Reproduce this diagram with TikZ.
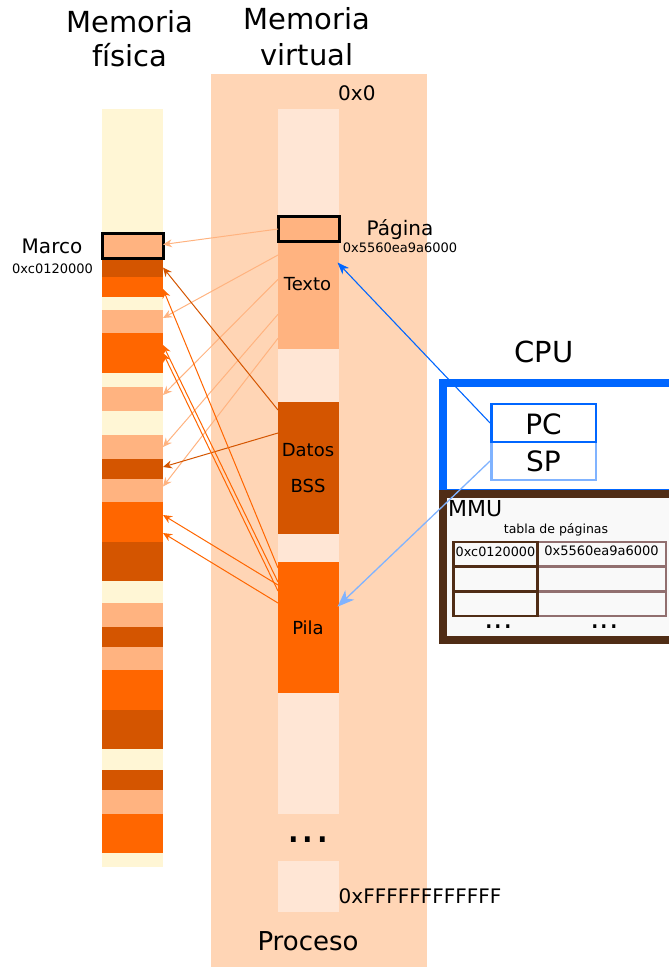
\documentclass[tikz,border=0pt]{standalone}
\usepackage{fontspec}
\setmainfont{DejaVu Sans}
\usetikzlibrary{arrows.meta}
\definecolor{cream}{HTML}{FFF6D5}
\definecolor{lor}{HTML}{FFB380}
\definecolor{ora}{HTML}{FF6600}
\definecolor{dor}{HTML}{D45500}
\definecolor{vlp}{HTML}{FFE6D5}
\definecolor{proc}{HTML}{FFD5B5}
\definecolor{cpublue}{HTML}{0066FF}
\definecolor{ltblue}{HTML}{80B3FF}
\definecolor{mmubrown}{HTML}{502D16}
\definecolor{gbrown}{HTML}{916F6F}
\definecolor{mmufill}{HTML}{F9F9F9}
\newcommand\myfs[1]{\fontsize{#1pt}{#1pt}\selectfont}
\tikzset{
  pm/.style={rectangle, inner sep=0pt, outer sep=0pt, minimum width=61pt, anchor=north},
  lbl/.style={inner sep=0pt, anchor=base},
  arrL/.style={draw=lor, line width=1pt, -{Stealth[length=9pt,width=8pt,inset=3pt]}},
  arrD/.style={draw=dor, line width=1pt, -{Stealth[length=9pt,width=8pt,inset=3pt]}},
  arrO/.style={draw=ora, line width=1pt, -{Stealth[length=9pt,width=8pt,inset=3pt]}},
  arrB/.style={draw=cpublue, line width=1.1pt, -{Stealth[length=12pt,width=9pt,inset=3.5pt]}},
  arrLB/.style={draw=ltblue, line width=1.3pt, -{Stealth[length=17pt,width=13pt,inset=5pt]}},
  cell/.style={rectangle, inner sep=0pt, line width=2.5pt},
}
\begin{document}
\begin{tikzpicture}[x=1pt,y=-1pt]
\useasboundingbox (0,0) rectangle (669,967);
\clip (0,0) rectangle (669,967);

% titles
\node[lbl, font=\myfs{29}] (t1a) at (130,32) {Memoria};
\node[lbl, font=\myfs{29}] (t1b) at (130,66.5) {física};
\node[lbl, font=\myfs{29}] (t2a) at (307,29.5) {Memoria};
\node[lbl, font=\myfs{29}] (t2b) at (307,65) {virtual};

% process background
\node[rectangle, inner sep=0pt, fill=proc, minimum width=216pt, minimum height=894pt, anchor=north] (proceso) at (319,73.5) {};

% physical memory frames
\foreach \ya/\yb/\col [count=\i] in {109/233/cream, 233/258/lor, 258/277/dor, 277/297/ora, 297/310/cream, 310/333/lor, 333/373/ora, 373/387/cream, 387/411/lor, 411/435/cream, 435/459/lor, 459/479/dor, 479/502/lor, 502/542/ora, 542/581/dor, 581/603/cream, 603/627/lor, 627/647/dor, 647/670/lor, 670/710/ora, 710/749/dor, 749/770/cream, 770/790/dor, 790/814/lor, 814/853/ora, 853/867/cream}{
  \pgfmathsetmacro\hh{\yb-\ya}
  \node[pm, fill=\col, minimum height=\hh pt] (p\i) at (132.5,\ya) {};
}
\draw[line width=3pt] (p2.north west) rectangle (p2.south east);

% virtual memory segments
\node[pm, fill=vlp, minimum height=107pt] (v1) at (308.5,109) {};
\node[pm, fill=lor, minimum height=25.5pt] (pag) at (308.5,216) {};
\node[pm, fill=lor, minimum height=107.5pt] (texto) at (308.5,241.5) {};
\node[pm, fill=vlp, minimum height=53pt] (v2) at (308.5,349) {};
\node[pm, fill=dor, minimum height=132pt] (datos) at (308.5,402) {};
\node[pm, fill=vlp, minimum height=28pt] (v3) at (308.5,534) {};
\node[pm, fill=ora, minimum height=131pt] (pila) at (308.5,562) {};
\node[pm, fill=vlp, minimum height=121pt] (v4) at (308.5,693) {};
\node[pm, fill=vlp, minimum height=51pt] (v5) at (308.5,861) {};
\draw[line width=3pt] (pag.north west) rectangle (pag.south east);

\node[lbl, font=\myfs{18}] (ltexto) at (307.5,290) {Texto};
\node[lbl, font=\myfs{18}] (ldatos) at (308,456) {Datos};
\node[lbl, font=\myfs{18}] (lbss) at (308,492) {BSS};
\node[lbl, font=\myfs{18}] (lpila) at (308,634) {Pila};
\node[lbl, font=\myfs{46}] (vdots) at (308,842) {...};

% labels
\node[lbl, font=\myfs{20}] (marco) at (52,253) {Marco};
\node[lbl, font=\myfs{13}] (marcoaddr) at (52.5,273) {0xc0120000};
\node[lbl, font=\myfs{20}] (pagina) at (400,235) {Página};
\node[lbl, font=\myfs{13}] (paginaaddr) at (400,252) {0x5560ea9a6000};
\node[lbl, anchor=base west, font=\myfs{20}] (a0) at (338,100) {0x0};
\node[lbl, anchor=base west, font=\myfs{20}] (amax) at (338.5,903) {0xFFFFFFFFFFFF};
\node[lbl, font=\myfs{26}] (lproceso) at (308,950) {Proceso};

% CPU
\node[lbl, font=\myfs{29}] (lcpu) at (544,362) {CPU};
\node[rectangle, inner sep=0pt, draw=cpublue, fill=white, line width=7.7pt, minimum width=257pt, minimum height=110pt] (cpu) at (571.5,438) {};
\node[rectangle, inner sep=0pt, draw=ltblue, fill=white, line width=2.8pt, minimum width=104.5pt, minimum height=38pt] (sp) at (543.75,461) {};
\node[rectangle, inner sep=0pt, draw=cpublue, fill=white, line width=2.8pt, minimum width=104.5pt, minimum height=38pt] (pc) at (543.75,423) {};
\node[lbl, font=\myfs{28}] (lpc) at (543.5,434) {PC};
\node[lbl, font=\myfs{28}] (lsp) at (543.5,471.7) {SP};

% MMU
\node[rectangle, inner sep=0pt, draw=mmubrown, fill=mmufill, line width=8pt, minimum width=257pt, minimum height=146.5pt] (mmu) at (571.5,566.75) {};
\node[lbl, anchor=base west, font=\myfs{22}] (lmmu) at (448,516.7) {MMU};
\node[lbl, font=\myfs{12.5}] (ltabla) at (556,533.3) {tabla de páginas};
\foreach \yc [count=\j] in {554.3,579,603.7}{
  \node[cell, draw=gbrown, minimum width=128.5pt, minimum height=24.7pt] (r\j) at (601.75,\yc) {};
}
\foreach \yc [count=\j] in {554.3,579,603.7}{
  \node[cell, draw=mmubrown, minimum width=84pt, minimum height=24.7pt] (l\j) at (495.5,\yc) {};
}
\node[lbl, font=\myfs{12.8}] (c1) at (495.5,556.7) {0xc0120000};
\node[lbl, font=\myfs{13}] (c2) at (601.5,555) {0x5560ea9a6000};
\node[lbl, font=\myfs{30}] (d1) at (498.5,628.5) {...};
\node[lbl, font=\myfs{30}] (d2) at (604.5,628.5) {...};

% mapping arrows
\draw[arrL] ([yshift=-13pt]pag.north west) -- ([yshift=1pt]p2.east);
\draw[arrL] ([yshift=-13.5pt]texto.north west) -- ([yshift=3.5pt]p6.east);
\draw[arrL] ([yshift=-37.8pt]texto.north west) -- ([yshift=4pt]p9.east);
\draw[arrL] ([yshift=-72.8pt]texto.north west) -- ([yshift=0pt]p11.east);
\draw[arrL] ([yshift=-96.8pt]texto.north west) -- ([yshift=4pt]p13.east);
\draw[arrD] ([yshift=-8pt]datos.north west) -- ([yshift=0pt]p3.east);
\draw[arrD] ([yshift=-31pt]datos.north west) -- ([yshift=2pt]p12.east);
\draw[arrO] ([yshift=-6pt]pila.north west) -- ([yshift=-2pt]p4.east);
\draw[arrO] ([yshift=-20pt]pila.north west) -- ([yshift=8pt]p7.east);
\draw[arrO] ([yshift=-29pt]pila.north west) -- ([yshift=0pt]p7.east);
\draw[arrO] ([yshift=-23pt]pila.north west) -- ([yshift=7pt]p14.east);
\draw[arrO] ([yshift=-41pt]pila.north west) -- ([yshift=-11pt]p14.east);

% register arrows
\draw[arrB] (pc.west) -- ([xshift=-1.5pt,yshift=-21pt]texto.north east);
\draw[arrLB] (sp.west) -- ([xshift=-1.5pt,yshift=-44.7pt]pila.north east);
\end{tikzpicture}
\end{document}
